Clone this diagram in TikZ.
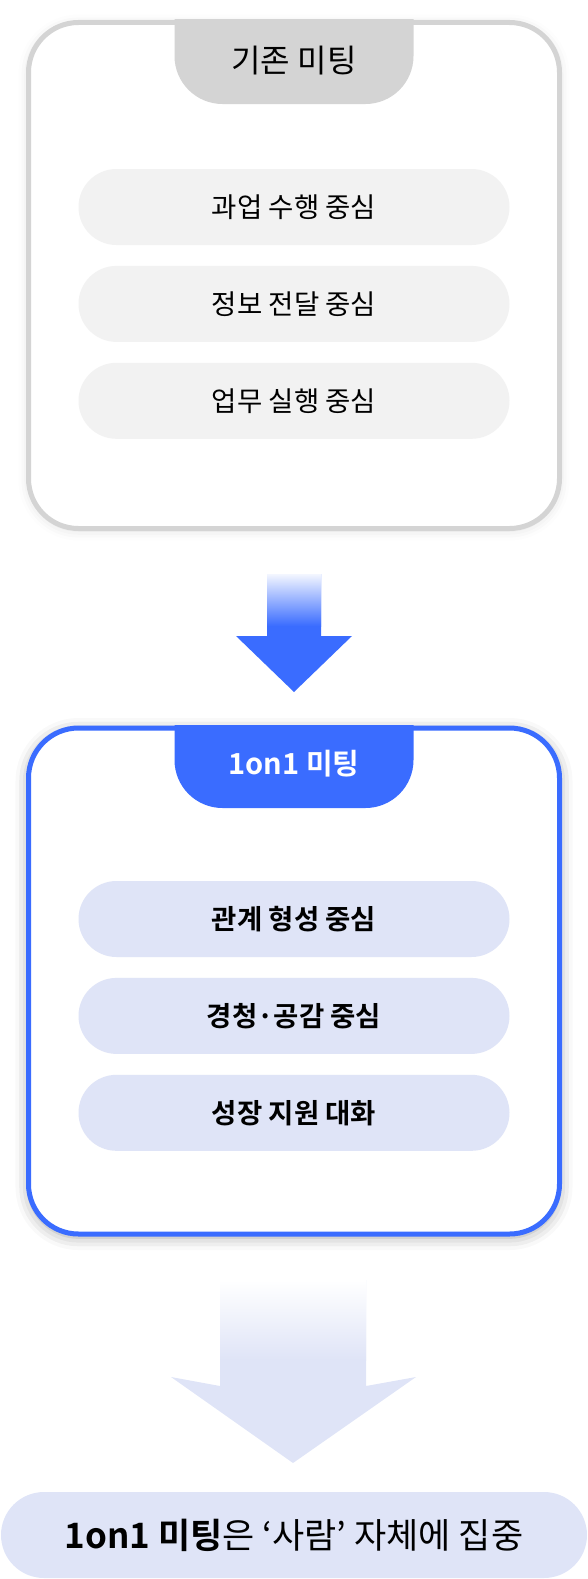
\documentclass[tikz,border=0pt]{standalone}
\usepackage{fontspec}
\setmainfont{Noto Sans CJK KR}[BoldFont={Noto Sans CJK KR Bold}]
\usetikzlibrary{positioning,shadows.blur}
\definecolor{oldgray}{HTML}{D4D4D4}
\definecolor{pillgray}{HTML}{F2F2F2}
\definecolor{mainblue}{HTML}{3A6CFF}
\definecolor{pillblue}{HTML}{DFE4F7}

\begin{document}
\begin{tikzpicture}[x=1pt,y=-1pt,node distance=20.5pt]
\tikzstyle{panel}=[draw, fill=white, line width=5pt, rounded corners=50pt, minimum width=531pt, minimum height=506pt]
\tikzstyle{pill}=[rounded corners=38pt, minimum width=431pt, minimum height=76pt, inner sep=0pt, font=\fontsize{27.5}{32}\selectfont]
\tikzstyle{tabtext}=[inner sep=0pt, font=\fontsize{32}{36}\selectfont]
\useasboundingbox (0,0) rectangle (588,1579);

% existing meeting
\node[panel, draw=oldgray, blur shadow={shadow xshift=0pt, shadow yshift=-2pt, shadow blur radius=10pt, shadow opacity=12}] (old) at (294,275.5) {};
\begin{scope}
\clip (old.north west) rectangle (old.south east);
\fill[oldgray, rounded corners=48pt] (174.5,-60) rectangle (413.5,104);
\end{scope}
\node[tabtext] (oldtitle) at (294,61) {기존 미팅};
\node[pill, fill=pillgray] (old1) at (294,207) {과업 수행 중심};
\node[pill, fill=pillgray, below=of old1] (old2) {정보 전달 중심};
\node[pill, fill=pillgray, below=of old2] (old3) {업무 실행 중심};

% first arrow
\fill[mainblue] (267,574) -- (321,574) -- (321,636) -- (352,636) -- (294,692) -- (236,636) -- (267,636) -- cycle;
\shade[top color=mainblue!6, bottom color=mainblue] (267,574) rectangle (321,626);

% 1on1 meeting
\node[panel, draw=mainblue, blur shadow={shadow xshift=0pt, shadow yshift=-3pt, shadow blur radius=13pt, shadow opacity=35}] (new) at (294,981) {};
\begin{scope}
\clip (new.north west) rectangle (new.south east);
\fill[mainblue, rounded corners=48pt] (174.5,650) rectangle (413.5,808);
\end{scope}
\node[tabtext, text=white, font=\fontsize{29}{33}\selectfont\bfseries] (newtitle) at (294,764) {1on1 미팅};
\node[pill, fill=pillblue, font=\fontsize{27.5}{32}\selectfont\bfseries] (new1) at (294,919) {관계 형성 중심};
\node[pill, fill=pillblue, font=\fontsize{27.5}{32}\selectfont\bfseries, below=of new1] (new2) {경청·공감 중심};
\node[pill, fill=pillblue, font=\fontsize{27.5}{32}\selectfont\bfseries, below=of new2] (new3) {성장 지원 대화};

% second arrow
\fill[pillblue] (220,1280) -- (366,1280) -- (366,1386) -- (416,1377) -- (293,1463) -- (171,1377) -- (220,1386) -- cycle;
\shade[top color=white, bottom color=pillblue] (220,1280) rectangle (366,1360);

% summary
\node[rounded corners=43pt, fill=pillblue, minimum width=586pt, minimum height=86pt, inner sep=0pt,
  font=\fontsize{35}{40}\selectfont] (focus) at (294,1535) {{\bfseries 1on1 미팅}은 ‘사람’ 자체에 집중};
\end{tikzpicture}
\end{document}
